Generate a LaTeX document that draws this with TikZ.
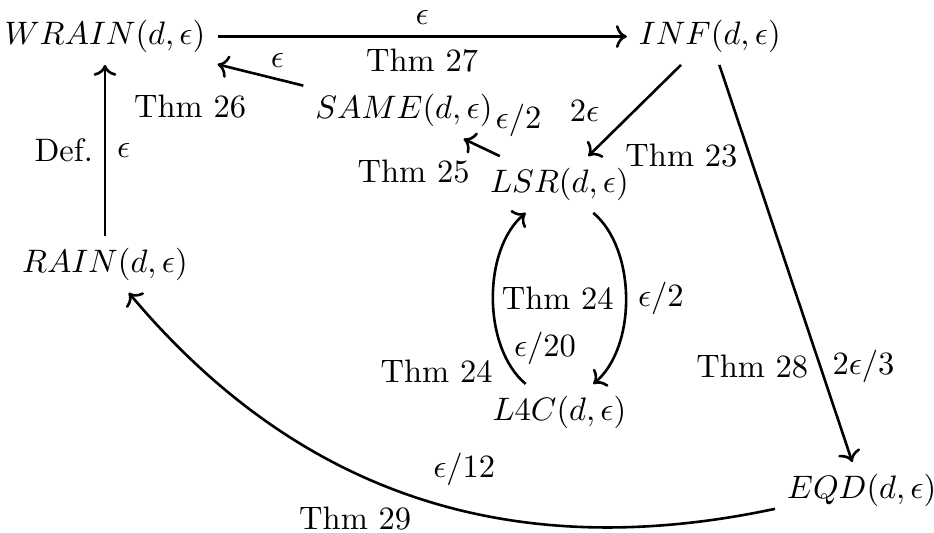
\documentclass[tikz,border=0pt]{standalone}
\usepackage{amsmath, amssymb}
\usepackage{tikz}
\usetikzlibrary{arrows.meta, positioning}

\begin{document}
\begin{tikzpicture}[thick, node distance=1.85cm]
  \useasboundingbox (0,0.04) rectangle (10.1,5.80);
  \node (wrain) at (1.135,5.405) {$WRAIN(d,\epsilon)$};
  \node (inf) at (7.676,5.405) {$INF(d,\epsilon)$};
  \node (same) at (4.368,4.605) {$SAME(d,\epsilon)$};
  \node (lsr) at (6.05,3.805) {$LSR(d,\epsilon)$};
  \node[below=of lsr] (l4c) {$L4C(d,\epsilon)$};
  \node[below=of wrain] (rain) {$RAIN(d,\epsilon)$};
  \node (eqd) at (9.319,0.497) {$EQD(d,\epsilon)$};

  \draw[->] (wrain) -- node[above] {$\epsilon$} node[below] {Thm 27} (inf);
  \draw[->] (same) -- node[pos=0.3, above] {$\epsilon$}
    node[pos=0.45, below left=1mm] {Thm 26} (wrain);
  \draw[->] (lsr) -- node[pos=0.45, above right] {$\epsilon/2$}
    node[pos=0.5, below left] {Thm 25} (same);
  \draw[->] (inf) -- node[pos=0.75, above left] {$2\epsilon$}
    node[pos=0.73, below right] {Thm 23} (lsr);
  \draw[->] (lsr) to[bend left=50, looseness=0.85]
    node[right] {$\epsilon/2$} node[left] {Thm 24} (l4c);
  \draw[->] (l4c) to[bend left=50, looseness=0.85]
    node[pos=0.24, right] {$\epsilon/20$} node[pos=0.1, left=1mm] {Thm 24} (lsr);
  \draw[->] (inf) -- node[pos=0.76, left] {Thm 28} node[pos=0.76, right] {$2\epsilon/3$} (eqd);
  \draw[->] (eqd) to[out=192, in=-50]
    node[pos=0.43, above=1.5mm] {$\epsilon/12$} node[pos=0.6, below=2.4mm] {Thm 29} (rain);
  \draw[->] (rain) -- node[left] {Def.} node[right] {$\epsilon$} (wrain);
\end{tikzpicture}
\end{document}
